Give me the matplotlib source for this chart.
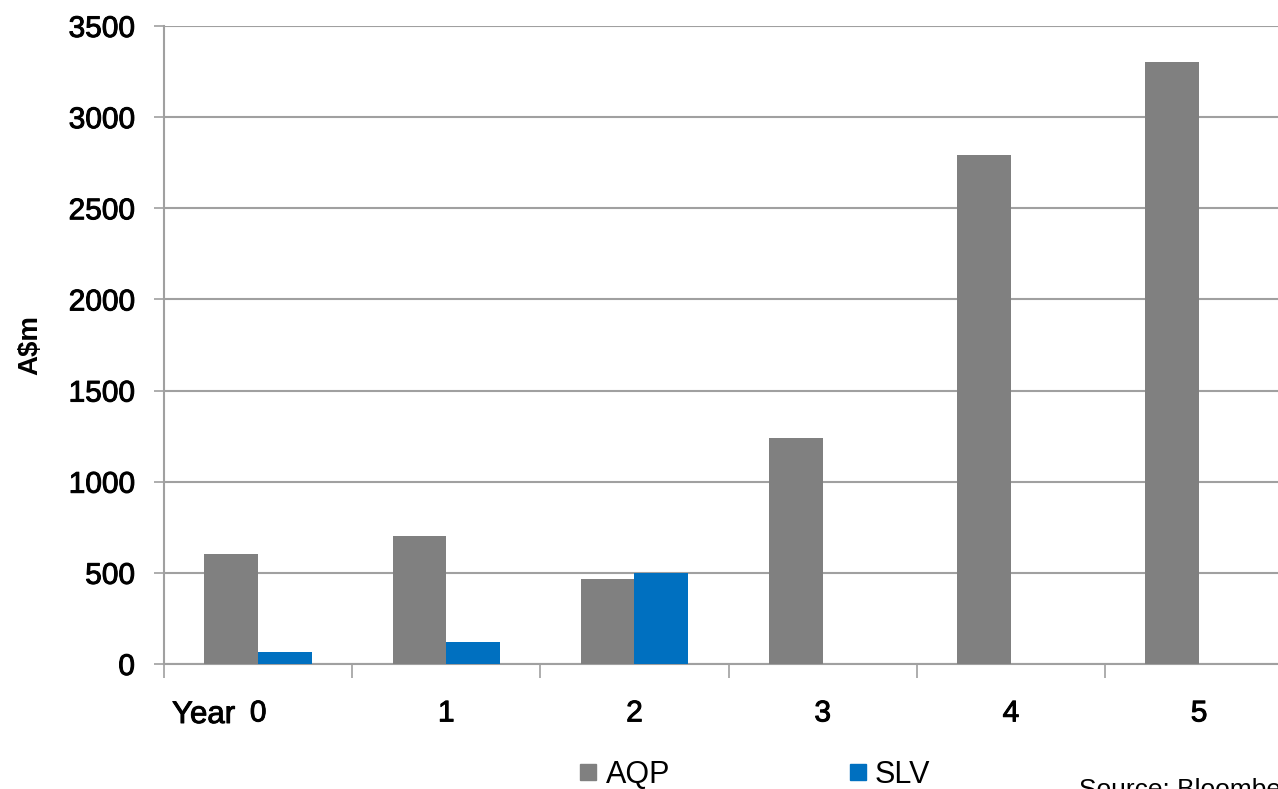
import matplotlib.pyplot as plt
import matplotlib.patheffects as pe
from matplotlib.lines import Line2D
import numpy as np

plt.rcParams['font.family'] = ['Liberation Sans', 'DejaVu Sans']

categories = ["0", "1", "2", "3", "4", "5"]
aqp = [603, 702, 466, 1240, 2790, 3300]
slv = [66, 120, 500, 0, 0, 0]
yticks = [0, 500, 1000, 1500, 2000, 2500, 3000, 3500]

GREY = "#808080"
BLUE = "#0070C0"
AXIS = "#a0a0a0"
# slightly heavier than regular weight for axis text
heavy = [pe.withStroke(linewidth=0.7, foreground='black')]

W, H = 1278, 789
fig = plt.figure(figsize=(W / 100, H / 100), dpi=100)
# plot area in pixels: left spine at x=164, category band 188 px wide, y from 26 to 664
left_px, right_px, top_px, bot_px = 164, 164 + 6 * 188.2, 26, 664
ax = fig.add_axes([left_px / W, 1 - bot_px / H, (right_px - left_px) / W, (bot_px - top_px) / H])

x = np.arange(len(categories))
bw = 0.285
ax.bar(x - bw / 2, aqp, width=bw, color=GREY, label="AQP", zorder=3)
ax.bar(x + bw / 2, slv, width=bw, color=BLUE, label="SLV", zorder=3)

ax.set_xlim(-0.5, len(categories) - 0.5)
ax.set_ylim(0, 3500)
ax.set_yticks(yticks)
ax.set_yticklabels([str(v) for v in yticks], fontsize=21.5)
ax.yaxis.grid(True, color=AXIS, linewidth=1.5, zorder=0)
ax.tick_params(axis='y', length=7, width=1.2, color=AXIS, pad=14)

# category boundaries carry the tick marks, centres carry the labels
ax.set_xticks(np.arange(-0.5, len(categories), 1.0))
ax.set_xticklabels([])
ax.tick_params(axis='x', which='major', length=10, width=1.2, color=AXIS)
ax.set_xticks(x, minor=True)
ax.set_xticklabels(categories, minor=True, fontsize=21.5)
ax.tick_params(axis='x', which='minor', length=0, pad=25.5)

for lab in ax.get_yticklabels() + ax.get_xticklabels(minor=True):
    lab.set_path_effects(heavy)

for s in ['top', 'right']:
    ax.spines[s].set_visible(False)
for s in ['left', 'bottom']:
    ax.spines[s].set_color(AXIS)
    ax.spines[s].set_linewidth(1.5)
ax.set_axisbelow(True)

fig.text(172 / W, 1 - 723 / H, "Year", fontsize=22.5, ha='left', va='baseline',
         path_effects=heavy)
fig.text(30 / W, 1 - 345 / H, "A\\$m", fontsize=20, fontweight='bold',
         rotation=90, ha='center', va='center')

handles = [Line2D([], [], marker='s', linestyle='none', markersize=11, color=GREY),
           Line2D([], [], marker='s', linestyle='none', markersize=11, color=BLUE)]
fig.legend(handles, ["AQP", "SLV"], loc='center left', bbox_to_anchor=(580 / W, 1 - 775 / H),
           ncol=2, frameon=False, fontsize=22, handlelength=0.55, handletextpad=0.3,
           columnspacing=5.85, borderpad=0, borderaxespad=0)

fig.text(1079 / W, 1 - 778 / H, "Source: Bloomberg", fontsize=19, ha='left', va='top')

fig.savefig("out.png", dpi=100)
